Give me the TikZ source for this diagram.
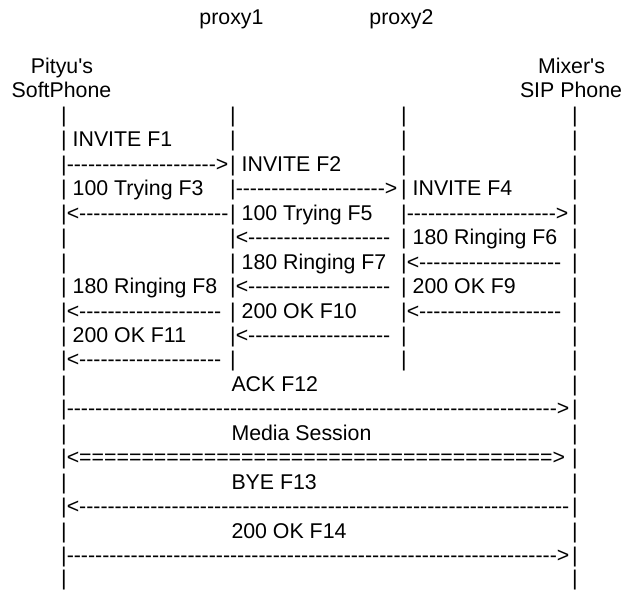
\documentclass[tikz,border=0pt]{standalone}
\usepackage{fontspec}
\setmainfont{Liberation Sans}[Ligatures=TeXOff]
\ExplSyntaxOn
\cs_new:Npn \reprt #1#2 { \prg_replicate:nn {#1} {#2} }
\ExplSyntaxOff
\begin{document}
\begin{tikzpicture}[x=1pt,y=-1pt,
  t/.style={inner sep=0pt, outer sep=0pt, font=\fontsize{21.33}{24}\selectfont, anchor=base west},
  p/.style={t, anchor=base},
  h/.style={t, anchor=base}]
\useasboundingbox[fill=white] (0,0) rectangle (624,590);
% columns: A=64, B=233, C=404, D=575 ; pipe half width 2.77
% headers
\node[h] (px1) at (231.5,24.3) {proxy1};
\node[h] (px2) at (401.5,24.3) {proxy2};
\node[h] (pit) at (62,73.3) {Pityu's};
\node[h] (sft) at (61.5,97.7) {SoftPhone};
\node[h] (mix) at (571.5,73.3) {Mixer's};
\node[h] (sip) at (571,97.7) {SIP Phone};
% row 0
\node[p] (a0) at (64,122.2) {|};
\node[p] (b0) at (233,122.2) {|};
\node[p] (c0) at (404,122.2) {|};
\node[p] (d0) at (575,122.2) {|};
% row 1
\node[t] (a1) at (61.23,146.7) {| INVITE F1};
\node[p] (b1) at (233,146.7) {|};
\node[p] (c1) at (404,146.7) {|};
\node[p] (d1) at (575,146.7) {|};
% row 2
\node[t] (a2) at (61.23,171.1) {|\reprt{21}{-}>};
\node[t] (b2) at (230.23,171.1) {| INVITE F2};
\node[p] (c2) at (404,171.1) {|};
\node[p] (d2) at (575,171.1) {|};
% row 3
\node[t] (a3) at (61.23,195.6) {| 100 Trying F3};
\node[t] (b3) at (230.23,195.6) {|\reprt{21}{-}>};
\node[t] (c3) at (401.23,195.6) {| INVITE F4};
\node[p] (d3) at (575,195.6) {|};
% row 4
\node[t] (a4) at (61.23,220.1) {|<\reprt{21}{-}};
\node[t] (b4) at (230.23,220.1) {| 100 Trying F5};
\node[t] (c4) at (401.23,220.1) {|\reprt{21}{-}>};
\node[p] (d4) at (575,220.1) {|};
% row 5
\node[p] (a5) at (64,244.6) {|};
\node[t] (b5) at (230.23,244.6) {|<\reprt{20}{-}};
\node[t] (c5) at (401.23,244.6) {| 180 Ringing F6};
\node[p] (d5) at (575,244.6) {|};
% row 6
\node[p] (a6) at (64,269.0) {|};
\node[t] (b6) at (230.23,269.0) {| 180 Ringing F7};
\node[t] (c6) at (401.23,269.0) {|<\reprt{20}{-}};
\node[p] (d6) at (575,269.0) {|};
% row 7
\node[t] (a7) at (61.23,293.5) {| 180 Ringing F8};
\node[t] (b7) at (230.23,293.5) {|<\reprt{20}{-}};
\node[t] (c7) at (401.23,293.5) {| 200 OK F9};
\node[p] (d7) at (575,293.5) {|};
% row 8
\node[t] (a8) at (61.23,318.0) {|<\reprt{20}{-}};
\node[t] (b8) at (230.23,318.0) {| 200 OK F10};
\node[t] (c8) at (401.23,318.0) {|<\reprt{20}{-}};
\node[p] (d8) at (575,318.0) {|};
% row 9
\node[t] (a9) at (61.23,342.4) {| 200 OK F11};
\node[t] (b9) at (230.23,342.4) {|<\reprt{20}{-}};
\node[p] (c9) at (404,342.4) {|};
\node[p] (d9) at (575,342.4) {|};
% row 10
\node[t] (a10) at (61.23,366.9) {|<\reprt{20}{-}};
\node[p] (b10) at (233,366.9) {|};
\node[p] (c10) at (404,366.9) {|};
\node[p] (d10) at (575,366.9) {|};
% row 11
\node[p] (a11) at (64,391.4) {|};
\node[t] (m11) at (231.5,391.4) {ACK F12};
\node[p] (d11) at (575,391.4) {|};
% row 12
\node[t] (a12) at (61.23,415.8) {|\reprt{69}{-}>};
\node[p] (d12) at (575,415.8) {|};
% row 13
\node[p] (a13) at (64,440.3) {|};
\node[t] (m13) at (231.5,440.3) {Media Session};
\node[p] (d13) at (575,440.3) {|};
% row 14
\node[t] (a14) at (61.23,464.8) {|<\reprt{38}{=}>};
\node[p] (d14) at (575,464.8) {|};
% row 15
\node[p] (a15) at (64,489.3) {|};
\node[t] (m15) at (231.5,489.3) {BYE F13};
\node[p] (d15) at (575,489.3) {|};
% row 16
\node[t] (a16) at (61.23,513.7) {|<\reprt{69}{-}};
\node[p] (d16) at (575,513.7) {|};
% row 17
\node[p] (a17) at (64,538.2) {|};
\node[t] (m17) at (231.5,538.2) {200 OK F14};
\node[p] (d17) at (575,538.2) {|};
% row 18
\node[t] (a18) at (61.23,562.7) {|\reprt{69}{-}>};
\node[p] (d18) at (575,562.7) {|};
% row 19
\node[p] (a19) at (64,585.2) {|};
\node[p] (d19) at (575,585.2) {|};
\end{tikzpicture}
\end{document}
